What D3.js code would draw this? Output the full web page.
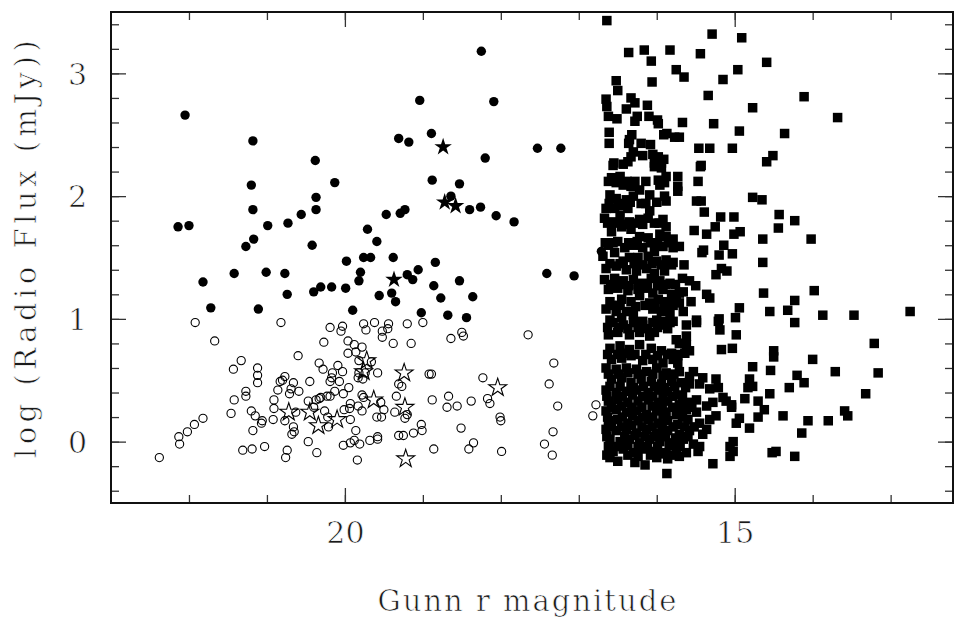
<!DOCTYPE html>
<html>
<head>
<meta charset="utf-8">
<script src="https://cdn.jsdelivr.net/npm/d3@7"></script>
<style>
  html, body { margin: 0; padding: 0; background: #fff; }
  svg { display: block; }
  text { font-family: "DejaVu Serif", "Liberation Serif", serif; fill: #1a1a1a; stroke: #fff; stroke-width: 0.7px; }
</style>
</head>
<body>
<svg id="chart" width="963" height="619"></svg>
<script>
// [Gunn r magnitude, log radio flux (mJy)]

// faint optical sources with a radio detection (filled circles)
const faintDetected = [
  [22.05,2.66],[21.18,2.45],[20.38,2.29],[19.31,2.47],[19.18,2.44],[18.89,2.51],[18.20,2.31],[17.53,2.39],
  [17.23,2.39],[19.04,2.78],[18.09,2.77],[18.25,3.18],[21.20,2.09],[20.13,2.11],[18.88,2.13],[18.53,2.10],
  [18.64,2.00],[18.40,1.89],[18.26,1.91],[18.06,1.84],[17.83,1.79],[20.37,1.99],[21.18,1.89],[20.37,1.89],
  [20.56,1.85],[20.73,1.78],[20.99,1.76],[22.14,1.75],[22.00,1.76],[19.47,1.85],[19.29,1.86],[19.23,1.89],
  [21.17,1.65],[21.27,1.59],[20.42,1.60],[19.71,1.73],[19.59,1.63],[19.98,1.47],[19.76,1.50],[19.67,1.50],
  [19.38,1.50],[18.84,1.46],[16.71,1.55],[21.42,1.37],[21.01,1.38],[20.77,1.37],[21.82,1.30],[19.80,1.38],
  [19.82,1.31],[19.20,1.36],[19.13,1.32],[19.06,1.40],[18.86,1.27],[18.53,1.31],[17.41,1.37],[17.06,1.35],
  [20.31,1.26],[20.17,1.26],[19.99,1.25],[20.40,1.22],[20.74,1.20],[19.40,1.21],[19.35,1.14],[19.56,1.19],
  [18.77,1.17],[18.36,1.18],[21.72,1.09],[21.11,1.08],[19.90,1.07],[19.02,1.05],[18.68,1.03],[18.44,1.01]
];

// faint optical sources, radio upper limits (open circles)
const faintLimits = [
  [21.92,0.97],[20.82,0.97],[21.67,0.82],[20.19,0.93],[20.03,0.94],[20.05,0.90],[19.76,0.96],[19.73,0.91],
  [19.62,0.97],[19.44,0.96],[19.45,0.92],[19.52,0.90],[19.52,0.85],[19.20,0.96],[19.00,0.97],[19.38,0.80],
  [19.15,0.80],[20.27,0.81],[19.96,0.82],[19.88,0.79],[19.78,0.77],[19.86,0.73],[19.96,0.72],[18.64,0.84],
  [18.50,0.89],[18.48,0.86],[17.65,0.87],[20.60,0.70],[21.33,0.66],[21.43,0.59],[21.12,0.60],[21.12,0.54],
  [21.12,0.48],[21.27,0.41],[21.27,0.37],[21.42,0.34],[21.46,0.23],[20.33,0.64],[20.28,0.59],[20.09,0.62],
  [20.03,0.57],[20.16,0.56],[20.17,0.52],[20.19,0.49],[20.07,0.49],[20.45,0.49],[20.77,0.53],[20.80,0.50],
  [20.83,0.49],[20.66,0.48],[20.69,0.43],[20.86,0.42],[20.71,0.39],[20.59,0.41],[20.91,0.34],[20.91,0.27],
  [20.92,0.18],[20.77,0.17],[20.63,0.24],[19.82,0.66],[19.66,0.65],[19.82,0.56],[19.83,0.52],[19.77,0.51],
  [19.74,0.56],[19.58,0.56],[19.95,0.44],[20.02,0.39],[20.13,0.41],[20.19,0.37],[20.23,0.37],[20.33,0.35],
  [20.37,0.34],[20.31,0.36],[20.47,0.33],[20.40,0.28],[20.26,0.25],[20.22,0.20],[20.21,0.12],[20.01,0.26],
  [19.93,0.31],[19.94,0.27],[19.83,0.29],[19.78,0.25],[19.93,0.18],[19.78,0.38],[19.76,0.36],[19.54,0.32],
  [19.50,0.26],[19.59,0.20],[19.53,0.20],[19.34,0.37],[19.36,0.24],[19.31,0.47],[19.27,0.45],[19.23,0.19],
  [19.20,0.22],[18.88,0.34],[18.69,0.28],[18.67,0.37],[18.56,0.29],[18.38,0.33],[18.23,0.52],[18.17,0.35],
  [18.14,0.31],[18.92,0.55],[18.89,0.55],[18.01,0.20],[18.00,0.17],[17.32,0.64],[17.38,0.47],[17.27,0.29],
  [17.33,0.08],[17.44,-0.02],[17.34,-0.11],[16.78,0.30],[16.82,0.21],[18.51,0.11],[18.35,-0.01],[18.41,-0.06],
  [17.99,-0.08],[18.86,-0.06],[19.02,0.14],[19.01,0.09],[19.12,0.07],[19.31,0.05],[19.25,0.05],[19.58,0.04],
  [19.58,0.02],[19.68,0.01],[19.81,-0.02],[19.88,0.01],[19.93,-0.01],[20.02,-0.03],[19.86,0.09],[19.84,-0.15],
  [20.36,-0.09],[20.47,0.00],[20.74,-0.07],[20.76,-0.13],[20.66,0.12],[20.65,0.08],[20.68,0.06],[21.03,-0.04],
  [21.19,-0.06],[21.31,-0.07],[21.18,0.09],[21.06,0.17],[21.07,0.15],[21.15,0.21],[21.20,0.25],[21.82,0.19],
  [21.93,0.14],[22.02,0.08],[22.13,0.04],[22.12,-0.02],[22.38,-0.13]
];

// stellar-looking faint sources, detected (filled stars)
const starDetected = [[18.74,2.40],[18.72,1.95],[18.58,1.92],[19.37,1.32]];

// stellar-looking faint sources, upper limits (open stars)
const starLimits = [
  [20.72,0.24],[20.45,0.24],[20.34,0.13],[20.10,0.18],[19.72,0.66],[19.76,0.57],
  [19.63,0.34],[19.24,0.56],[19.23,0.28],[19.22,-0.14],[18.04,0.44]
];

// bright optical sources (filled squares)
const brightUpper = [
  [16.64,3.43],[15.29,3.32],[14.91,3.29],[16.36,3.17],[16.16,3.19],[15.83,3.19],[15.44,3.16],[16.07,3.10],
  [14.59,3.09],[14.96,3.03],[15.75,3.03],[15.65,2.97],[15.15,2.95],[16.52,2.94],[16.06,2.93],[16.50,2.86],
  [15.34,2.82],[16.65,2.79],[16.33,2.80],[16.28,2.76],[16.64,2.73],[16.12,2.74],[14.77,2.72],[16.39,2.71],
  [16.62,2.65],[16.51,2.63],[16.25,2.65],[16.28,2.61],[16.10,2.65],[15.99,2.62],[15.98,2.59],[15.67,2.60],
  [15.27,2.59],[16.61,2.52],[16.32,2.50],[16.35,2.46],[15.91,2.50],[15.87,2.51],[15.77,2.48],[15.71,2.48],
  [14.94,2.53],[16.61,2.43],[16.36,2.43],[16.20,2.43],[16.08,2.42],[15.46,2.39],[15.32,2.39],[15.03,2.39],
  [16.30,2.36],[16.33,2.32],[16.18,2.33],[16.05,2.34],[15.98,2.32],[15.91,2.30],[16.37,2.28],[16.03,2.27],
  [15.94,2.27],[16.55,2.27],[15.43,2.25],[14.51,2.33],[14.59,2.28]
];
const brightOuter = [
  [14.11,2.81],[13.68,2.64],[14.36,2.51],[14.43,1.85],[14.23,1.80],[14.44,1.74],[14.02,1.65],[13.98,1.23],
  [14.23,1.15],[14.32,1.07],[13.87,1.03],[13.47,1.03],[12.75,1.06],[14.23,0.97],[14.55,1.06],[13.21,0.80],
  [14.50,0.74],[14.50,0.69],[14.00,0.67],[14.54,0.58],[14.20,0.54],[14.11,0.48],[13.71,0.57],[13.16,0.56],
  [14.30,0.44],[13.32,0.39],[14.55,0.39],[14.38,0.21],[14.06,0.17],[13.80,0.17],[13.59,0.25],[13.55,0.21],
  [14.14,0.07],[14.47,-0.08],[14.52,-0.09],[14.23,-0.12]
];
const brightMiddle = [
  [15.44,2.24],[15.73,2.16],[15.47,2.12],[15.73,2.08],[15.73,2.04],[14.77,1.99],[14.65,1.97],[15.49,1.96],
  [15.43,1.96],[15.39,1.87],[15.18,1.83],[15.01,1.83],[15.25,1.75],[15.36,1.69],[15.52,1.72],[15.01,1.69],
  [14.93,1.71],[14.64,1.65],[15.14,1.60],[15.40,1.56],[15.42,1.54],[15.20,1.52],[15.03,1.53],[14.64,1.46],
  [15.17,1.41],[15.10,1.39],[15.24,1.36],[15.36,1.20],[15.32,1.17],[14.63,1.21],[14.94,1.09],[15.20,1.00],
  [14.99,1.01],[15.49,0.99],[15.67,1.33],[15.58,1.31],[15.50,1.27],[15.65,1.44],[15.66,1.22],[15.56,1.14],
  [15.71,1.13],[15.66,1.06],
  [15.19,0.91],[14.98,0.87],[15.17,0.75],[15.03,0.76],[14.77,0.61],[14.81,0.51],[14.77,0.45],[14.83,0.44],
  [14.87,0.35],[14.70,0.33],[15.04,0.30],[15.04,0.28],[14.62,0.26],[14.94,0.19],[14.98,0.15],[14.81,0.11],
  [14.70,0.20],[15.02,0.00],[15.06,-0.04],[15.02,-0.08],[15.06,-0.12],[15.28,-0.18],[15.87,-0.26],[15.45,-0.04],
  [15.47,-0.08],[15.41,0.06],[15.36,0.10],[15.32,0.18],[15.24,0.21],[15.36,0.29],[15.28,0.32],[15.15,0.36],
  [15.11,0.33],[15.24,0.51],[15.21,0.44],[15.32,0.43],[15.41,0.52],[15.45,0.47],[15.58,0.47],[15.53,0.57],
  [15.58,0.53],[15.71,0.57],[15.73,0.64],[15.64,0.72],[15.73,0.70],[15.62,0.79],[15.62,0.86],[15.71,0.80],
  [15.58,0.74],[15.49,0.97],[15.62,0.95],[15.21,0.98]
];
const brightCore = [
  [16.56,2.25],[16.43,2.26],[16.03,2.24],[15.94,2.23],[16.58,2.15],[16.47,2.16],[16.43,2.09],[16.33,2.08],
  [16.22,2.05],[16.09,2.01],[15.98,2.13],[15.88,2.16],[15.90,2.11],[15.96,2.09],[16.60,2.01],[16.52,1.98],
  [16.39,1.97],[16.30,2.00],[15.90,2.00],[15.88,1.96],[16.65,1.90],[16.54,1.90],[16.43,1.92],[16.37,1.90],
  [16.09,1.88],[16.11,1.82],[16.67,1.82],[16.58,1.79],[16.47,1.84],[16.35,1.79],[16.22,1.81],[16.18,1.77],
  [15.92,1.81],[15.88,1.75],[16.58,1.71],[16.45,1.75],[16.33,1.73],[16.22,1.67],[16.11,1.66],[15.96,1.69],
  [15.88,1.67],[15.79,1.65],[16.62,1.60],[16.50,1.63],[16.41,1.58],[16.30,1.60],[16.18,1.58],[16.03,1.55],
  [15.92,1.59],[15.79,1.58],[15.71,1.59],[16.69,1.51],[16.54,1.54],[16.43,1.47],[16.35,1.50],[16.24,1.50],
  [16.11,1.51],[16.00,1.47],[15.88,1.48],[15.79,1.46],[16.65,1.41],[16.52,1.43],[16.39,1.40],[16.26,1.39],
  [16.13,1.41],[16.03,1.37],[15.90,1.39],[15.81,1.44],[16.67,1.32],[16.54,1.33],[16.43,1.31],[16.30,1.32],
  [16.18,1.29],[16.07,1.33],[15.96,1.31],[15.83,1.29],[16.62,1.24],[16.50,1.25],[16.37,1.23],[16.24,1.24],
  [16.15,1.25],[16.05,1.21],[15.92,1.24],[15.81,1.20],[15.71,1.21],[16.60,1.14],[16.45,1.16],[16.33,1.14],
  [16.22,1.19],[16.09,1.13],[15.98,1.16],[15.86,1.14],[15.75,1.17],[16.65,1.08],[16.52,1.06],[16.39,1.06],
  [16.30,1.04],[16.05,1.08],[15.94,1.06],[15.83,1.05],[16.60,0.99],[16.45,1.01],[16.18,0.98],[16.00,0.99],
  [15.90,0.98],[15.79,0.98],
  [16.56,0.97],[16.43,0.95],[16.30,0.97],[16.18,0.95],[16.05,0.97],[15.94,0.95],[15.83,0.97],[16.62,0.87],
  [16.50,0.89],[16.35,0.87],[16.22,0.89],[16.09,0.86],[16.03,0.89],[15.75,0.83],[15.69,0.80],[16.60,0.76],
  [16.47,0.78],[16.35,0.75],[16.22,0.79],[16.07,0.76],[15.94,0.74],[15.81,0.72],[16.58,0.67],[16.45,0.68],
  [16.33,0.70],[16.18,0.66],[16.05,0.67],[15.92,0.64],[15.79,0.67],[16.65,0.60],[16.52,0.59],[16.39,0.60],
  [16.26,0.59],[16.13,0.57],[16.00,0.60],[15.88,0.56],[16.58,0.51],[16.45,0.52],[16.33,0.48],[16.20,0.51],
  [16.07,0.49],[15.94,0.47],[15.81,0.49],[15.69,0.48],[16.65,0.42],[16.52,0.40],[16.39,0.41],[16.26,0.42],
  [16.11,0.40],[15.98,0.42],[15.86,0.41],[15.73,0.38],[16.62,0.33],[16.50,0.34],[16.37,0.32],[16.24,0.33],
  [16.11,0.34],[15.98,0.32],[15.86,0.33],[15.71,0.30],[15.60,0.32],[15.49,0.34],[16.65,0.25],[16.52,0.26],
  [16.39,0.24],[16.26,0.25],[16.13,0.22],[16.00,0.25],[15.88,0.24],[15.75,0.22],[15.62,0.26],[15.49,0.24],
  [16.62,0.17],[16.50,0.18],[16.37,0.15],[16.24,0.17],[16.11,0.18],[15.98,0.15],[15.86,0.17],[15.73,0.14],
  [15.60,0.18],[15.45,0.15],[16.65,0.10],[16.52,0.09],[16.39,0.10],[16.26,0.07],[16.13,0.10],[16.00,0.07],
  [15.86,0.09],[15.71,0.06],[15.58,0.09],[16.60,0.02],[16.47,0.00],[16.35,0.02],[16.22,-0.01],[16.09,0.02],
  [15.96,0.00],[15.81,-0.01],[15.66,0.02],[15.53,-0.02],[16.56,-0.08],[16.43,-0.06],[16.30,-0.09],[16.18,-0.06],
  [16.03,-0.08],[15.88,-0.09],[15.75,-0.06],[15.62,-0.09],[16.60,-0.13],[16.50,-0.16],[16.28,-0.17],[16.15,-0.19],
  [16.00,-0.13],[15.86,-0.14],[15.71,-0.12]
];
// further sources packed inside the crowded part of the bright sample
const brightCrowd = [
  [16.63,0.93],[16.49,0.93],[16.37,0.92],[16.24,0.93],[16.12,0.92],[15.99,0.93],[15.86,0.92],
  [16.63,0.71],[16.50,0.71],[16.40,0.72],[16.28,0.71],[16.14,0.71],[15.99,0.70],[15.86,0.71],[15.75,0.71],
  [16.62,0.55],[16.49,0.55],[16.37,0.56],[16.24,0.55],[16.05,0.55],[15.92,0.54],[15.78,0.55],
  [16.60,0.45],[16.47,0.45],[16.30,0.44],[16.17,0.45],[16.03,0.45],[15.90,0.44],[15.77,0.45],[15.63,0.44],
  [16.64,0.37],[16.44,0.37],[16.31,0.38],[16.18,0.37],[16.05,0.37],[15.92,0.36],[15.80,0.37],[15.67,0.37],
  [16.58,0.28],[16.45,0.29],[16.32,0.28],[16.19,0.28],[16.06,0.29],[15.93,0.28],[15.80,0.28],[15.68,0.27],[15.55,0.28],
  [16.63,0.20],[16.44,0.20],[16.31,0.21],[16.18,0.20],[16.05,0.20],[15.92,0.21],[15.67,0.20],
  [16.58,0.12],[16.45,0.12],[16.32,0.13],[16.19,0.12],[16.06,0.12],[15.93,0.11],[15.79,0.12],[15.64,0.12],[15.52,0.12],
  [16.64,0.04],[16.41,0.04],[16.28,0.05],[16.15,0.04],[16.03,0.04],[15.89,0.04],[15.76,0.03],[15.60,0.04],
  [16.62,-0.04],[16.50,-0.04],[16.37,-0.03],[16.24,-0.04],[16.12,-0.04],[15.99,-0.04],[15.84,-0.03],[15.70,-0.04],
  [16.64,-0.11],[16.37,-0.11],[16.24,-0.12],[16.08,-0.11],[15.94,-0.10],[15.79,-0.11],
  [16.58,1.11],[16.47,1.11],[16.27,1.10],[16.15,1.11],[16.02,1.11],[15.90,1.10],[15.79,1.11],
  [16.59,1.28],[16.48,1.28],[16.36,1.27],[16.24,1.28],[16.12,1.28],[15.99,1.27],[15.88,1.28],[15.76,1.28],
  [16.60,1.45],[16.47,1.45],[16.29,1.45],[16.18,1.44],[16.06,1.45],[15.94,1.44],[15.84,1.45],
  [16.66,1.62],[16.56,1.62],[16.36,1.62],[16.25,1.63],[16.08,1.62],[15.99,1.62],[15.85,1.62],
  [16.63,1.78],[16.52,1.78],[16.41,1.77],[16.28,1.78],[16.03,1.78],[15.97,1.78],
  [16.61,1.94],[16.49,1.94],[16.34,1.95],[16.20,1.94],[16.14,1.94],[16.00,1.95],
  [16.62,2.12],[16.52,2.11],[16.38,2.12],[16.28,2.12],[16.14,2.12]
];
const brightSources = [...brightCore, ...brightCrowd, ...brightMiddle, ...brightUpper, ...brightOuter];

// axis settings
const xDomain = [23, 12.2];
const yDomain = [-0.5, 3.5];
const xMajor = [20, 15];
const xMinor = d3.range(13, 23);
const yMajor = [0, 1, 2, 3];
const yMinor = d3.range(-2, 18).map(v => v / 5);
const xTitle = "Gunn r magnitude";
const yTitle = "log (Radio Flux (mJy))";

const plot = { left: 111, right: 953, top: 12, bottom: 503 };
const svg = d3.select("#chart");

const x = d3.scaleLinear().domain(xDomain).range([plot.left, plot.right]);
const y = d3.scaleLinear().domain(yDomain).range([plot.bottom, plot.top]);

const tickColor = "#333";
function styleAxis(g) {
  g.select(".domain").remove();
  g.selectAll(".tick line").attr("stroke", tickColor).attr("stroke-width", 1.3);
}

// ticks on all four sides, pointing inwards
const majorLen = 15, minorLen = 8;
svg.append("g").attr("transform", `translate(0,${plot.bottom})`)
  .call(d3.axisBottom(x).tickValues(xMinor).tickSize(-minorLen).tickFormat(""))
  .call(styleAxis);
const xAxisMajor = svg.append("g").attr("transform", `translate(0,${plot.bottom})`)
  .call(d3.axisBottom(x).tickValues(xMajor).tickSize(-majorLen).tickFormat(d3.format("d")))
  .call(styleAxis);
svg.append("g").attr("transform", `translate(0,${plot.top})`)
  .call(d3.axisTop(x).tickValues(xMinor).tickSize(-minorLen).tickFormat(""))
  .call(styleAxis);
svg.append("g").attr("transform", `translate(0,${plot.top})`)
  .call(d3.axisTop(x).tickValues(xMajor).tickSize(-majorLen).tickFormat(""))
  .call(styleAxis);

svg.append("g").attr("transform", `translate(${plot.left},0)`)
  .call(d3.axisLeft(y).tickValues(yMinor).tickSize(-minorLen).tickFormat(""))
  .call(styleAxis);
const yAxisMajor = svg.append("g").attr("transform", `translate(${plot.left},0)`)
  .call(d3.axisLeft(y).tickValues(yMajor).tickSize(-majorLen).tickFormat(d3.format("d")))
  .call(styleAxis);
svg.append("g").attr("transform", `translate(${plot.right},0)`)
  .call(d3.axisRight(y).tickValues(yMinor).tickSize(-minorLen).tickFormat(""))
  .call(styleAxis);
svg.append("g").attr("transform", `translate(${plot.right},0)`)
  .call(d3.axisRight(y).tickValues(yMajor).tickSize(-majorLen).tickFormat(""))
  .call(styleAxis);

function styleTickText(sel) {
  sel.attr("font-size", 30).attr("font-family", "DejaVu Serif")
    .attr("fill", "#1a1a1a").attr("stroke", "#fff").attr("stroke-width", 0.7);
}
xAxisMajor.selectAll(".tick text").attr("y", 40).attr("dy", 0).call(styleTickText);
yAxisMajor.selectAll(".tick text").attr("x", -24).attr("dy", "0.36em").call(styleTickText);

// frame
svg.append("rect")
  .attr("x", plot.left).attr("y", plot.top)
  .attr("width", plot.right - plot.left).attr("height", plot.bottom - plot.top)
  .attr("fill", "none").attr("stroke", "#111").attr("stroke-width", 2);

// axis titles
svg.append("text")
  .attr("x", 528).attr("y", 611)
  .attr("text-anchor", "middle").attr("font-size", 29)
  .attr("letter-spacing", 2)
  .text(xTitle);
svg.append("text")
  .attr("transform", "translate(36,247) rotate(-90)")
  .attr("text-anchor", "middle").attr("font-size", 29)
  .attr("letter-spacing", 4.5)
  .text(yTitle);

// markers
const marks = svg.append("g");
const sq = 9.5;
marks.selectAll("rect.bright").data(brightSources).join("rect")
  .attr("class", "bright")
  .attr("x", d => x(d[0]) - sq / 2).attr("y", d => y(d[1]) - sq / 2)
  .attr("width", sq).attr("height", sq).attr("fill", "#000");

marks.selectAll("circle.limit").data(faintLimits).join("circle")
  .attr("class", "limit")
  .attr("cx", d => x(d[0])).attr("cy", d => y(d[1])).attr("r", 4.1)
  .attr("fill", "none").attr("stroke", "#000").attr("stroke-width", 1.1);

marks.selectAll("circle.det").data(faintDetected).join("circle")
  .attr("class", "det")
  .attr("cx", d => x(d[0])).attr("cy", d => y(d[1])).attr("r", 4.7)
  .attr("fill", "#000");

const star = d3.symbol().type(d3.symbolStar);
marks.selectAll("path.starLim").data(starLimits).join("path")
  .attr("class", "starLim")
  .attr("transform", d => `translate(${x(d[0])},${y(d[1])})`)
  .attr("d", star.size(100)())
  .attr("fill", "none").attr("stroke", "#000").attr("stroke-width", 1.1);

marks.selectAll("path.starDet").data(starDetected).join("path")
  .attr("class", "starDet")
  .attr("transform", d => `translate(${x(d[0])},${y(d[1])})`)
  .attr("d", star.size(95)())
  .attr("fill", "#000");
</script>
</body>
</html>
